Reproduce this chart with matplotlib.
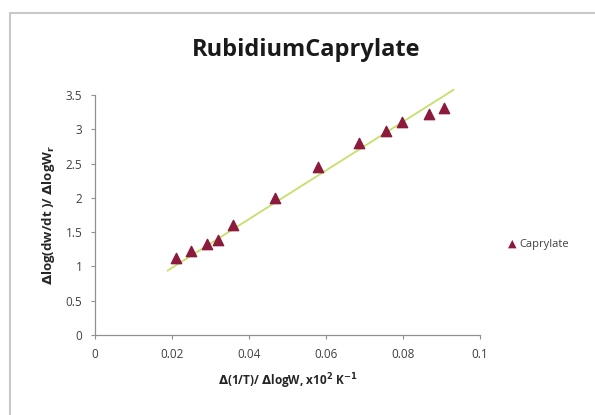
import numpy as np
import matplotlib
matplotlib.use('Agg')
import matplotlib.pyplot as plt
from matplotlib.patches import Rectangle

# values
x_vals = [0.021, 0.0249, 0.029, 0.0319, 0.0358, 0.0467, 0.0578, 0.0686, 0.0757, 0.0797, 0.0868, 0.0906]
y_vals = [1.12, 1.22, 1.33, 1.38, 1.61, 2.0, 2.45, 2.8, 2.97, 3.11, 3.22, 3.31]
trend_slope = 35.5
trend_intercept = 0.27
trend_x = [0.0189, 0.0931]
x_ticks = [0, 0.02, 0.04, 0.06, 0.08, 0.1]
x_ticklabels = ['0', '0.02', '0.04', '0.06', '0.08', '0.1']
y_ticks = [0, 0.5, 1, 1.5, 2, 2.5, 3, 3.5]
y_ticklabels = ['0', '0.5', '1', '1.5', '2', '2.5', '3', '3.5']

plt.rcParams['font.family'] = ['Open Sans', 'DejaVu Sans']

fig = plt.figure(figsize=(5.95, 4.15), dpi=100)
ax = fig.add_axes([95 / 595, 1 - 335 / 415, 385 / 595, 240 / 415])

# outer chart border
fig.patches.append(Rectangle((10 / 595, -0.1), 1.1, 1 - 13 / 415 + 0.1,
                             transform=fig.transFigure, fill=False,
                             edgecolor='#c8c8c8', linewidth=1.5))

tx = np.array(trend_x)
ax.plot(tx, trend_slope * tx + trend_intercept, color='#c5e06a', linewidth=1.3,
        zorder=2, clip_on=False)
ax.scatter(x_vals, y_vals, marker='^', s=55, color='#8c1a3c', zorder=3)

ax.set_xlim(0, 0.1)
ax.set_ylim(0, 3.5)
ax.set_xticks(x_ticks)
ax.set_xticklabels(x_ticklabels)
ax.set_yticks(y_ticks)
ax.set_yticklabels(y_ticklabels)
ax.tick_params(direction='out', length=3, width=0.8, color='#909090',
               labelsize=8.5, labelcolor='#404040', pad=6)
for s in ['top', 'right']:
    ax.spines[s].set_visible(False)
for s in ['left', 'bottom']:
    ax.spines[s].set_color('#909090')
    ax.spines[s].set_linewidth(0.9)

ax.set_xlabel(r'$\mathbf{\Delta}$(1/T)/ $\mathbf{\Delta}$logW, x10$^{\mathbf{2}}$ K$^{\mathbf{-1}}$',
              fontsize=8.5, fontweight='bold', labelpad=8, color='#262626')
ax.set_ylabel(r'$\mathbf{\Delta}$log(dw/dt )/ $\mathbf{\Delta}$logW$_{\mathbf{r}}$',
              fontsize=9.5, fontweight='bold', labelpad=6, color='#262626')
fig.text(306 / 595, 1 - 50 / 415, 'RubidiumCaprylate', ha='center', va='center',
         fontsize=17, fontweight='bold', color='#1a1a1a')

# legend
fig.text(512 / 595, 1 - 244 / 415, '\u25B2', ha='center', va='center',
         fontsize=8, color='#8c1a3c', family=['DejaVu Sans'])
fig.text(519 / 595, 1 - 244 / 415, 'Caprylate', ha='left', va='center',
         fontsize=8, color='#404040')

fig.savefig('out.png', dpi=100)
